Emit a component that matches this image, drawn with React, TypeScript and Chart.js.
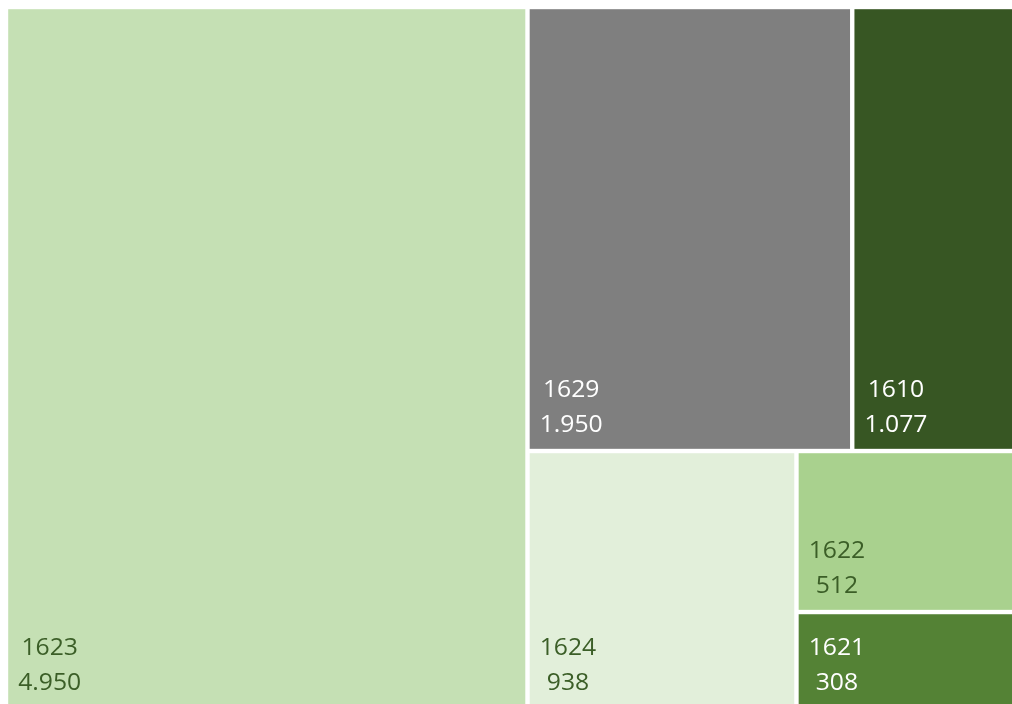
import { useEffect, useRef } from "react";
import { Chart, registerables } from "chart.js";

Chart.register(...registerables);

// ---- data ----
const categories: string[] = ["1623", "1629", "1610", "1624", "1622", "1621"];
const values: number[] = [4950, 1950, 1077, 938, 512, 308];
const fillColors: string[] = ["#C5E0B4", "#7F7F7F", "#375623", "#E2EFDA", "#A9D18E", "#548235"];
const textColors: string[] = ["#3B5E27", "#FFFFFF", "#FFFFFF", "#3B5E27", "#3B5E27", "#FFFFFF"];

// treemap split structure (v = side-by-side, h = stacked)
type Node = number | { dir: "v" | "h"; children: Node[] };
const layoutTree: Node = {
  dir: "v",
  children: [
    0,
    {
      dir: "h",
      children: [
        { dir: "v", children: [1, 2] },
        { dir: "v", children: [3, { dir: "h", children: [4, 5] }] },
      ],
    },
  ],
};

const fmt = (n: number) => String(n).replace(/\B(?=(\d{3})+(?!\d))/g, ".");

type Cell = { i: number; x0: number; x1: number; y0: number; y1: number };

function sumNode(n: Node): number {
  if (typeof n === "number") return values[n];
  return n.children.reduce((s, c) => s + sumNode(c), 0);
}

function layout(n: Node, x0: number, x1: number, y0: number, y1: number, out: Cell[]) {
  if (typeof n === "number") {
    out.push({ i: n, x0, x1, y0, y1 });
    return;
  }
  const total = sumNode(n);
  let acc = 0;
  for (const c of n.children) {
    const s = sumNode(c);
    const a = acc / total;
    const b = (acc + s) / total;
    if (n.dir === "v") layout(c, x0 + (x1 - x0) * a, x0 + (x1 - x0) * b, y0, y1, out);
    else layout(c, x0, x1, y0 + (y1 - y0) * a, y0 + (y1 - y0) * b, out);
    acc += s;
  }
}

const cells: Cell[] = [];
layout(layoutTree, 0, 1, 0, 1, cells);

// visible window of the (larger) treemap box
const X_VIEW_MAX = 1006 / 1025.6;
const Y_VIEW_MAX = 697 / 701.9;

const treemapPlugin = {
  id: "treemapCells",
  afterDatasetsDraw(chart: any) {
    const { ctx } = chart;
    const xs = chart.scales.x;
    const ys = chart.scales.y;
    const gap = 2.2;
    ctx.save();
    for (const c of cells) {
      const left = xs.getPixelForValue(c.x0) + gap;
      const right = xs.getPixelForValue(c.x1) - gap;
      const top = ys.getPixelForValue(c.y0) + gap;
      const bottom = ys.getPixelForValue(c.y1) - gap;
      ctx.fillStyle = fillColors[c.i];
      ctx.fillRect(left, top, right - left, bottom - top);

      const lines = [categories[c.i], fmt(values[c.i])];
      ctx.font = '24px "Open Sans"';
      ctx.textBaseline = "alphabetic";
      ctx.textAlign = "center";
      ctx.fillStyle = textColors[c.i];
      const sx = 1.03;
      const widths = lines.map((l) => ctx.measureText(l).width * sx);
      const bw = Math.max(...widths);
      const cx = left + 10 + bw / 2;
      const base2 = bottom - 17;
      const base1 = base2 - 34.4;
      [base1, base2].forEach((by, k) => {
        ctx.save();
        ctx.translate(cx, by);
        ctx.scale(sx, 1);
        ctx.fillText(lines[k], 0, 0);
        ctx.restore();
      });
    }
    ctx.restore();
  },
};

export default function App() {
  const ref = useRef<HTMLCanvasElement | null>(null);
  useEffect(() => {
    if (!ref.current) return;
    const chart = new Chart(ref.current, {
      type: "scatter",
      data: {
        datasets: [
          {
            data: cells.map((c) => ({ x: (c.x0 + c.x1) / 2, y: (c.y0 + c.y1) / 2 })),
            pointRadius: 0,
            pointHoverRadius: 0,
          },
        ],
      },
      options: {
        animation: false,
        responsive: false,
        layout: { padding: { left: 6, top: 7, right: 0, bottom: 0 } },
        plugins: { legend: { display: false }, tooltip: { enabled: false } },
        events: [],
        scales: {
          x: { type: "linear", min: 0, max: X_VIEW_MAX, display: false },
          y: { type: "linear", min: 0, max: Y_VIEW_MAX, reverse: true, display: false },
        },
      },
      plugins: [treemapPlugin],
    });
    return () => chart.destroy();
  }, []);
  return (
    <div style={{ position: "absolute", left: 0, top: 0, width: 1012, height: 704, background: "#fff" }}>
      <canvas ref={ref} width={1012} height={704} style={{ display: "block" }} />
    </div>
  );
}
